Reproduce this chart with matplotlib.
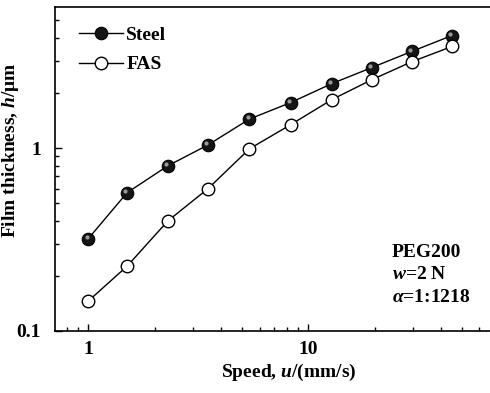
import matplotlib
matplotlib.use("Agg")
import matplotlib.pyplot as plt
import matplotlib.transforms as mtransforms
from matplotlib.ticker import LogLocator, NullFormatter, FixedLocator, FixedFormatter

plt.rcParams['font.family'] = 'Liberation Serif'
plt.rcParams['font.weight'] = 'bold'
plt.rcParams['mathtext.fontset'] = 'custom'
plt.rcParams['mathtext.rm'] = 'Liberation Serif:bold'
plt.rcParams['mathtext.bf'] = 'Liberation Serif:bold'
plt.rcParams['mathtext.it'] = 'Liberation Serif:italic:bold'

# Datos
speed = [1.0, 1.5, 2.3, 3.5, 5.4, 8.3, 12.8, 19.4, 29.5, 45.0]
steel = [0.32, 0.57, 0.80, 1.04, 1.44, 1.77, 2.25, 2.75, 3.37, 4.12]
fas = [0.146, 0.226, 0.40, 0.60, 0.99, 1.34, 1.84, 2.36, 2.96, 3.59]

fig = plt.figure(figsize=(4.9, 3.93), dpi=100)
ax = fig.add_axes([0.1122, 0.1578, 0.8878, 0.8244])

ax.plot(speed, steel, color='black', lw=1, marker='o', ms=9,
        mfc='#151515', mec='black', mew=0.8, label='Steel')
# brillo de las esferas
hl = mtransforms.offset_copy(ax.transData, fig=fig, x=-1.2, y=1.2, units='points')
ax.plot(speed, steel, ls='none', marker='o', ms=3, mfc='#9a9a9a', mec='none',
        transform=hl)
ax.plot(speed, fas, color='black', lw=1, marker='o', ms=9,
        mfc='white', mec='black', mew=1, label='FAS')

ax.set_xscale('log')
ax.set_yscale('log')
ax.set_xlim(0.705, 67)
ax.set_ylim(0.1, 5.9)

ax.xaxis.set_major_locator(FixedLocator([1, 10]))
ax.xaxis.set_major_formatter(FixedFormatter(['1', '10']))
ax.xaxis.set_minor_locator(LogLocator(base=10, subs=range(2, 10)))
ax.xaxis.set_minor_formatter(NullFormatter())
ax.yaxis.set_major_locator(FixedLocator([0.1, 1]))
ax.yaxis.set_major_formatter(FixedFormatter(['0.1', '1']))
ax.yaxis.set_minor_locator(LogLocator(base=10, subs=range(2, 10)))
ax.yaxis.set_minor_formatter(NullFormatter())

ax.tick_params(which='both', direction='in', top=False, right=False,
               labelsize=14, width=1)
ax.tick_params(which='major', length=5)
ax.tick_params(which='minor', length=3)
ax.tick_params(axis='x', pad=7)
ax.tick_params(axis='y', pad=10)
ax.spines['right'].set_visible(False)
for s in ['left', 'bottom', 'top']:
    ax.spines[s].set_linewidth(1.2)

ax.set_xlabel(r'Speed, $\mathit{u}$/(mm/s)', fontsize=14, fontweight='bold')
ax.set_ylabel(r'Film thickness, $\mathit{h}$/μm', fontsize=14, fontweight='bold')
ax.xaxis.set_label_coords(0.538, -0.095)
ax.yaxis.set_label_coords(-0.078, 0.559)

ax.legend(loc='upper left', frameon=False, fontsize=14, handlelength=2.3,
          handletextpad=0.15, borderaxespad=0.6, labelspacing=0.6,
          bbox_to_anchor=(0.01, 1.0))

ax.text(0.774, 0.27, 'PEG200\n' + r'$\mathit{w}$=2 N' + '\n' + r'$\mathit{\alpha}$=1:1218',
        transform=ax.transAxes, fontsize=14, fontweight='bold',
        ha='left', va='top', linespacing=1.45)

fig.savefig('out.png', dpi=100)
